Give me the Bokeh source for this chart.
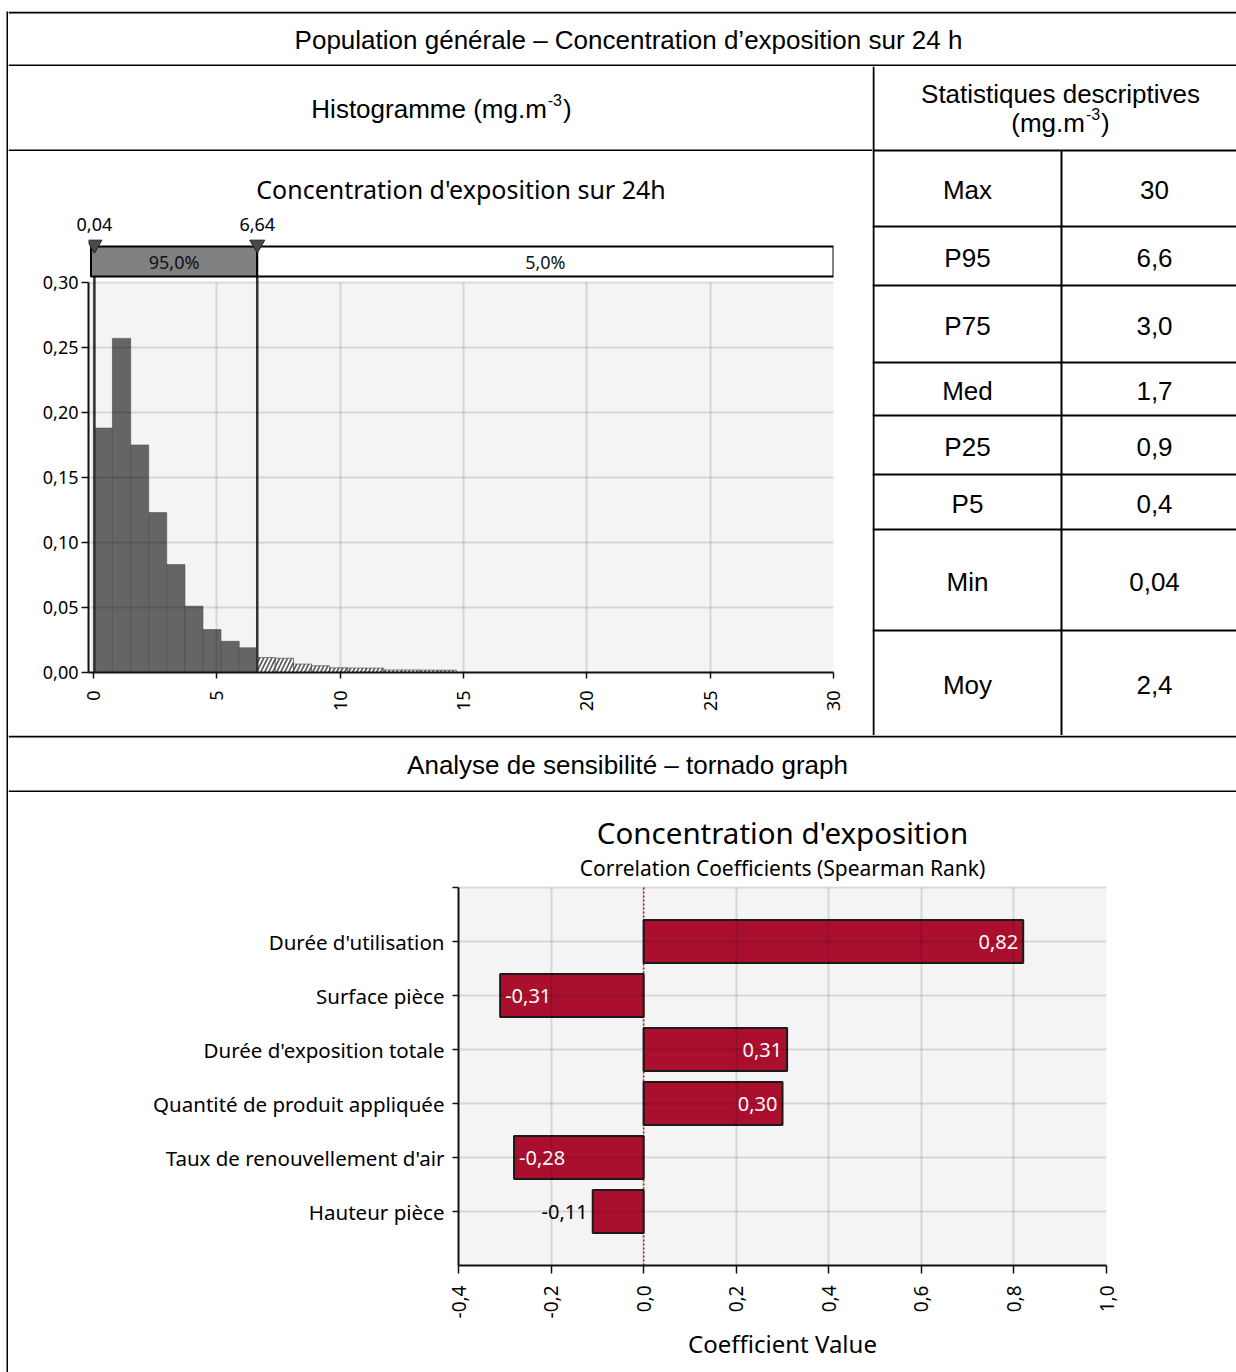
import math

from bokeh.core.properties import value
from bokeh.embed import file_html
from bokeh.layouts import column, row
from bokeh.models import (CustomJSTickFormatter, FixedTicker, LinearAxis,
                          Range1d, Spacer, Title)
from bokeh.plotting import figure
from bokeh.resources import INLINE

# ---------------------------------------------------------------- data
PAGE_TITLE = "Population générale – Concentration d’exposition sur 24 h"
HIST_HEADER = "Histogramme (mg.m"
STATS_HEADER = "Statistiques descriptives"
STATS_UNIT = "(mg.m"
UNIT_EXP = "-3"
SECTION_TITLE = "Analyse de sensibilité – tornado graph"

stat_names = ["Max", "P95", "P75", "Med", "P25", "P5", "Min", "Moy"]
stat_values = ["30", "6,6", "3,0", "1,7", "0,9", "0,4", "0,04", "2,4"]

hist_title = "Concentration d'exposition sur 24h"
bin_edges = [0.04, 0.77, 1.51, 2.24, 2.97, 3.71, 4.44, 5.17, 5.91, 6.64,
             7.37, 8.11, 8.84, 9.57, 10.31, 11.04, 11.77, 12.51, 13.24, 13.97, 14.71]
bin_freq = [0.188, 0.257, 0.175, 0.123, 0.083, 0.051, 0.033, 0.024, 0.019,
            0.0115, 0.011, 0.0065, 0.0052, 0.0036, 0.0035, 0.0034, 0.002, 0.002,
            0.0019, 0.0018]
delimiters = [0.04, 6.64]
delimiter_labels = ["0,04", "6,64"]
band_labels = ["95,0%", "5,0%"]
hist_xticks = [0, 5, 10, 15, 20, 25, 30]
hist_yticks = [0.0, 0.05, 0.10, 0.15, 0.20, 0.25, 0.30]

tornado_title = "Concentration d'exposition"
tornado_subtitle = "Correlation Coefficients (Spearman Rank)"
tornado_xlabel = "Coefficient Value"
inputs = ["Durée d'utilisation", "Surface pièce", "Durée d'exposition totale",
          "Quantité de produit appliquée", "Taux de renouvellement d'air", "Hauteur pièce"]
coefficients = [0.82, -0.31, 0.31, 0.30, -0.28, -0.11]
tornado_xticks = [-0.4, -0.2, 0.0, 0.2, 0.4, 0.6, 0.8, 1.0]

# ---------------------------------------------------------------- styles
TABLE_FONT = value("Liberation Sans")
CHART_FONT = value("Noto Sans")
LINE = "black"
PLOT_BG = "#f4f4f4"


def cell_fig(w, h, fill="white"):
    """Blank figure in pixel coordinates (y grows downwards)."""
    f = figure(width=w, height=h, x_range=Range1d(0, w), y_range=Range1d(h, 0),
               x_axis_type=None, y_axis_type=None, toolbar_location=None,
               output_backend="svg", min_border=0, outline_line_color=None,
               background_fill_color=fill, border_fill_color=fill, title=None,
               frame_align=False)
    return f


def hline(f, x0, x1, y, t=2):
    f.quad(left=[x0], right=[x1], top=[y - t / 2], bottom=[y + t / 2],
           fill_color=LINE, line_color=None)


def vline(f, x, y0, y1, t=2):
    f.quad(left=[x - t / 2], right=[x + t / 2], top=[y0], bottom=[y1],
           fill_color=LINE, line_color=None)


def table_text(f, x, y, txt, size=26, align="center", baseline="middle"):
    f.text(x=[x], y=[y], text=[txt], text_align=align, text_baseline=baseline,
           text_font=TABLE_FONT, text_font_size=value(f"{size}px"), text_color="black")


def text_with_exponent(f, x_center, y, main, size=26, exp_size=16):
    # widths follow Arial metrics (Liberation Sans shares them)
    w_main = {"Histogramme (mg.m": 9.056, "(mg.m": 2.833}[main] * size
    w_exp = 0.889 * exp_size
    w_close = 0.333 * size
    x0 = x_center - (w_main + w_exp + w_close + 2) / 2
    table_text(f, x0, y, main, size, align="left")
    f.text(x=[x0 + w_main + 1], y=[y - 9], text=[UNIT_EXP], text_align="left",
           text_baseline="middle", text_font=TABLE_FONT,
           text_font_size=value(f"{exp_size}px"), text_color="black")
    table_text(f, x0 + w_main + w_exp + 2, y, ")", size, align="left")


# ---------------------------------------------------------------- table cells
W = 1228
title_cell = cell_fig(W, 55)
hline(title_cell, 0, W, 1)
hline(title_cell, 0, W, 54)
table_text(title_cell, W / 2 + 6, 28, PAGE_TITLE)

hist_header = cell_fig(864, 85)
hline(hist_header, 0, 864, 84)
text_with_exponent(hist_header, 433, 42, HIST_HEADER)

# statistics column
stats = cell_fig(364, 669)
vline(stats, 1, 0, 669)
hline(stats, 0, 364, 84)
vline(stats, 189, 84, 669)
row_bounds = [84, 160, 219, 296, 349, 408, 463, 564, 669]
for yb in row_bounds[1:-1]:
    hline(stats, 0, 364, yb)
table_text(stats, 188, 27, STATS_HEADER)
text_with_exponent(stats, 188, 56, STATS_UNIT)
for i, (name, val) in enumerate(zip(stat_names, stat_values)):
    yc = (row_bounds[i] + row_bounds[i + 1]) / 2 + 1.5
    table_text(stats, 95, yc, name)
    table_text(stats, 282, yc, val)

section_cell = cell_fig(W, 57)
hline(section_cell, 0, W, 1)
hline(section_cell, 0, W, 56)
table_text(section_cell, 619, 29, SECTION_TITLE)

# ---------------------------------------------------------------- histogram
H_PX = 1300.0            # pixels per frequency unit
H_FRAME_H = 435
H_TOP = 86
Y_MAX = 0.30
X_START, X_END = -0.2, 30.0
hist = figure(width=864, height=584, x_range=Range1d(X_START, X_END),
              y_range=Range1d(0, H_FRAME_H / H_PX), toolbar_location=None,
              output_backend="svg", min_border_left=80,
              min_border_right=39, min_border_top=H_TOP, min_border_bottom=63,
              background_fill_color="white", border_fill_color="white",
              outline_line_color=None, frame_align=False)
hist.title = Title(text=hist_title, align="center", text_font="Noto Sans",
                   text_font_size="25px", text_font_style="normal",
                   text_color="black", standoff=17)

hist.quad(left=[X_START], right=[X_END], bottom=[0], top=[Y_MAX],
          fill_color=PLOT_BG, line_color=None)

lefts = bin_edges[:-1]
rights = bin_edges[1:]
main = [i for i, l in enumerate(lefts) if l < delimiters[1]]
tail = [i for i, l in enumerate(lefts) if l >= delimiters[1]]
hist.quad(left=[lefts[i] for i in main], right=[rights[i] for i in main],
          top=[bin_freq[i] for i in main], bottom=0,
          fill_color="#656565", line_color="#4c4c4c", line_width=0.6)
hist.quad(left=[lefts[i] for i in tail], right=[rights[i] for i in tail],
          top=[bin_freq[i] for i in tail], bottom=0,
          fill_color="#5c5c5c", line_color="#4c4c4c", line_width=0.6,
          hatch_pattern="/", hatch_color="white", hatch_scale=8, hatch_weight=1.8)

band_bottom = Y_MAX + 6 / H_PX
band_top = Y_MAX + 36 / H_PX
hist.segment(x0=delimiters, y0=0, x1=delimiters, y1=band_top,
             line_color="#333333", line_width=2.5)
band_left = [X_START + 0.1, delimiters[1]]
band_right = [delimiters[1], X_END]
hist.quad(left=band_left, right=band_right, bottom=band_bottom, top=band_top,
          fill_color=["#808080", "white"], line_color="black", line_width=2)
hist.text(x=[(a + b) / 2 for a, b in zip(band_left, band_right)],
          y=(band_bottom + band_top) / 2, text=band_labels, text_align="center",
          text_baseline="middle", text_font=CHART_FONT,
          text_font_size=value("18px"), text_color="#111111")
hist.scatter(x=delimiters, y=Y_MAX + 38 / H_PX, marker="inverted_triangle",
             size=15, fill_color="#4a4a4a", line_color="#222222")

# value axis along the bottom
x_axis = hist.below[0]
x_axis.ticker = FixedTicker(ticks=hist_xticks)
x_axis.major_label_orientation = math.pi / 2
x_axis.major_tick_out = 6
x_axis.major_label_standoff = 12
y_axis = hist.left[0]
y_axis.ticker = FixedTicker(ticks=hist_yticks)
y_axis.formatter = CustomJSTickFormatter(code="return tick.toFixed(2).replace('.', ',');")
y_axis.bounds = (0, Y_MAX)
y_axis.major_tick_out = 7
y_axis.major_label_standoff = 3
for ax in (x_axis, y_axis):
    ax.major_tick_in = 0
    ax.minor_tick_line_color = None
    ax.axis_line_width = 2
    ax.axis_line_color = "#111111"
    ax.major_tick_line_color = "#111111"
    ax.major_tick_line_width = 1.5
    ax.major_label_text_font = "Noto Sans"
    ax.major_label_text_font_size = "18px"
    ax.major_label_text_color = "black"
hist.xgrid.ticker = FixedTicker(ticks=hist_xticks)
hist.xgrid.cross_bounds = (0, Y_MAX)
for g in (hist.xgrid, hist.ygrid):
    g.grid_line_color = "black"
    g.grid_line_alpha = 0.12
    g.grid_line_width = 2
    g.level = "overlay"

# percentile markers labelled by a tick-only axis above the frame
delim_axis = LinearAxis(ticker=FixedTicker(ticks=delimiters),
                        major_label_overrides=dict(zip(delimiters, delimiter_labels)),
                        axis_line_color=None, major_tick_line_color=None,
                        minor_tick_line_color=None, major_tick_in=0, major_tick_out=0,
                        major_label_standoff=7, major_label_text_font="Noto Sans",
                        major_label_text_font_size="18px", major_label_text_color="black")
hist.add_layout(delim_axis, "above")

# ---------------------------------------------------------------- tornado
T_PX = 54.0              # pixels per category step
T_FRAME_H = 473
N_ROWS = len(inputs) + 1
T_XMIN, T_XMAX = -0.4, 1.0
tor = figure(width=W, height=580, x_range=Range1d(T_XMIN, T_XMAX),
             y_range=Range1d(0, T_FRAME_H / T_PX), toolbar_location=None,
             output_backend="svg", title=None, min_border_left=450,
             min_border_right=130, min_border_top=0, min_border_bottom=107,
             background_fill_color="white", border_fill_color="white",
             outline_line_color=None, frame_align=False)

tor.quad(left=[T_XMIN], right=[T_XMAX], bottom=[0], top=[N_ROWS],
         fill_color=PLOT_BG, line_color=None)
tor.segment(x0=[0], y0=[0], x1=[0], y1=[N_ROWS], line_color="#dc143c",
            line_width=1.5, line_dash="2 2")

ypos = [len(inputs) - i for i in range(len(inputs))]
tor.hbar(y=ypos, left=[min(0, c) for c in coefficients],
         right=[max(0, c) for c in coefficients], height=0.8,
         fill_color="#ab0f2e", line_color="#1a1a1a", line_width=2)

labels = [f"{c:.2f}".replace(".", ",") for c in coefficients]
inside_pos = [i for i, c in enumerate(coefficients) if c >= 0.15]
inside_neg = [i for i, c in enumerate(coefficients) if c <= -0.15]
outside_neg = [i for i, c in enumerate(coefficients) if -0.15 < c < 0]
common = dict(text_baseline="middle", text_font=CHART_FONT,
              text_font_size=value("20px"))
tor.text(x=[coefficients[i] for i in inside_pos], y=[ypos[i] for i in inside_pos],
         text=[labels[i] for i in inside_pos], text_align="right", x_offset=-5,
         text_color="white", **common)
tor.text(x=[coefficients[i] for i in inside_neg], y=[ypos[i] for i in inside_neg],
         text=[labels[i] for i in inside_neg], text_align="left", x_offset=5,
         text_color="white", **common)
tor.text(x=[coefficients[i] for i in outside_neg], y=[ypos[i] for i in outside_neg],
         text=[labels[i] for i in outside_neg], text_align="right", x_offset=-5,
         text_color="black", **common)

tx = (T_XMIN + T_XMAX) / 2
tor.text(x=[tx], y=[N_ROWS + 55 / T_PX], text=[tornado_title], text_align="center",
         text_baseline="middle", text_font=CHART_FONT,
         text_font_size=value("29.5px"), text_color="black")
tor.text(x=[tx], y=[N_ROWS + 20 / T_PX], text=[tornado_subtitle], text_align="center",
         text_baseline="middle", text_font=CHART_FONT,
         text_font_size=value("21px"), text_color="black")

tor.xaxis.ticker = FixedTicker(ticks=tornado_xticks)
tor.xaxis.formatter = CustomJSTickFormatter(code="return tick.toFixed(1).replace('.', ',');")
tor.xaxis.major_label_orientation = math.pi / 2
tor.xaxis.major_tick_out = 8
tor.xaxis.major_label_standoff = 12
tor.xaxis.axis_label = tornado_xlabel
tor.xaxis.axis_label_text_font = "Noto Sans"
tor.xaxis.axis_label_text_font_size = "24px"
tor.xaxis.axis_label_text_font_style = "normal"
tor.xaxis.axis_label_text_color = "black"
tor.xaxis.axis_label_standoff = 6
tor.yaxis.ticker = FixedTicker(ticks=list(range(1, N_ROWS + 1)))
tor.yaxis.major_label_overrides = {**{p: n for p, n in zip(ypos, inputs)}, N_ROWS: ""}
tor.yaxis.bounds = (0, N_ROWS)
tor.yaxis.major_tick_out = 6
tor.yaxis.major_label_standoff = 8
for ax in (tor.xaxis, tor.yaxis):
    ax.major_tick_in = 0
    ax.minor_tick_line_color = None
    ax.axis_line_width = 2
    ax.axis_line_color = "#111111"
    ax.major_tick_line_color = "#111111"
    ax.major_tick_line_width = 1.5
    ax.major_label_text_font = "Noto Sans"
    ax.major_label_text_font_size = "20.5px"
    ax.major_label_text_color = "black"
tor.xaxis.major_label_text_font_size = "19px"
tor.xgrid.cross_bounds = (0, N_ROWS)
for g in (tor.xgrid, tor.ygrid):
    g.grid_line_color = "black"
    g.grid_line_alpha = 0.12
    g.grid_line_width = 2
    g.level = "overlay"

# ---------------------------------------------------------------- page layout
left_border = cell_fig(2, 1361, fill="black")
content = column(
    title_cell,
    row(column(hist_header, hist, spacing=0), stats, spacing=0),
    section_cell,
    tor,
    spacing=0,
)
page = column(
    Spacer(width=1236, height=11),
    row(Spacer(width=6, height=1361), left_border, content, spacing=0),
    spacing=0,
)

open("out.html", "w").write(file_html(page, INLINE))
